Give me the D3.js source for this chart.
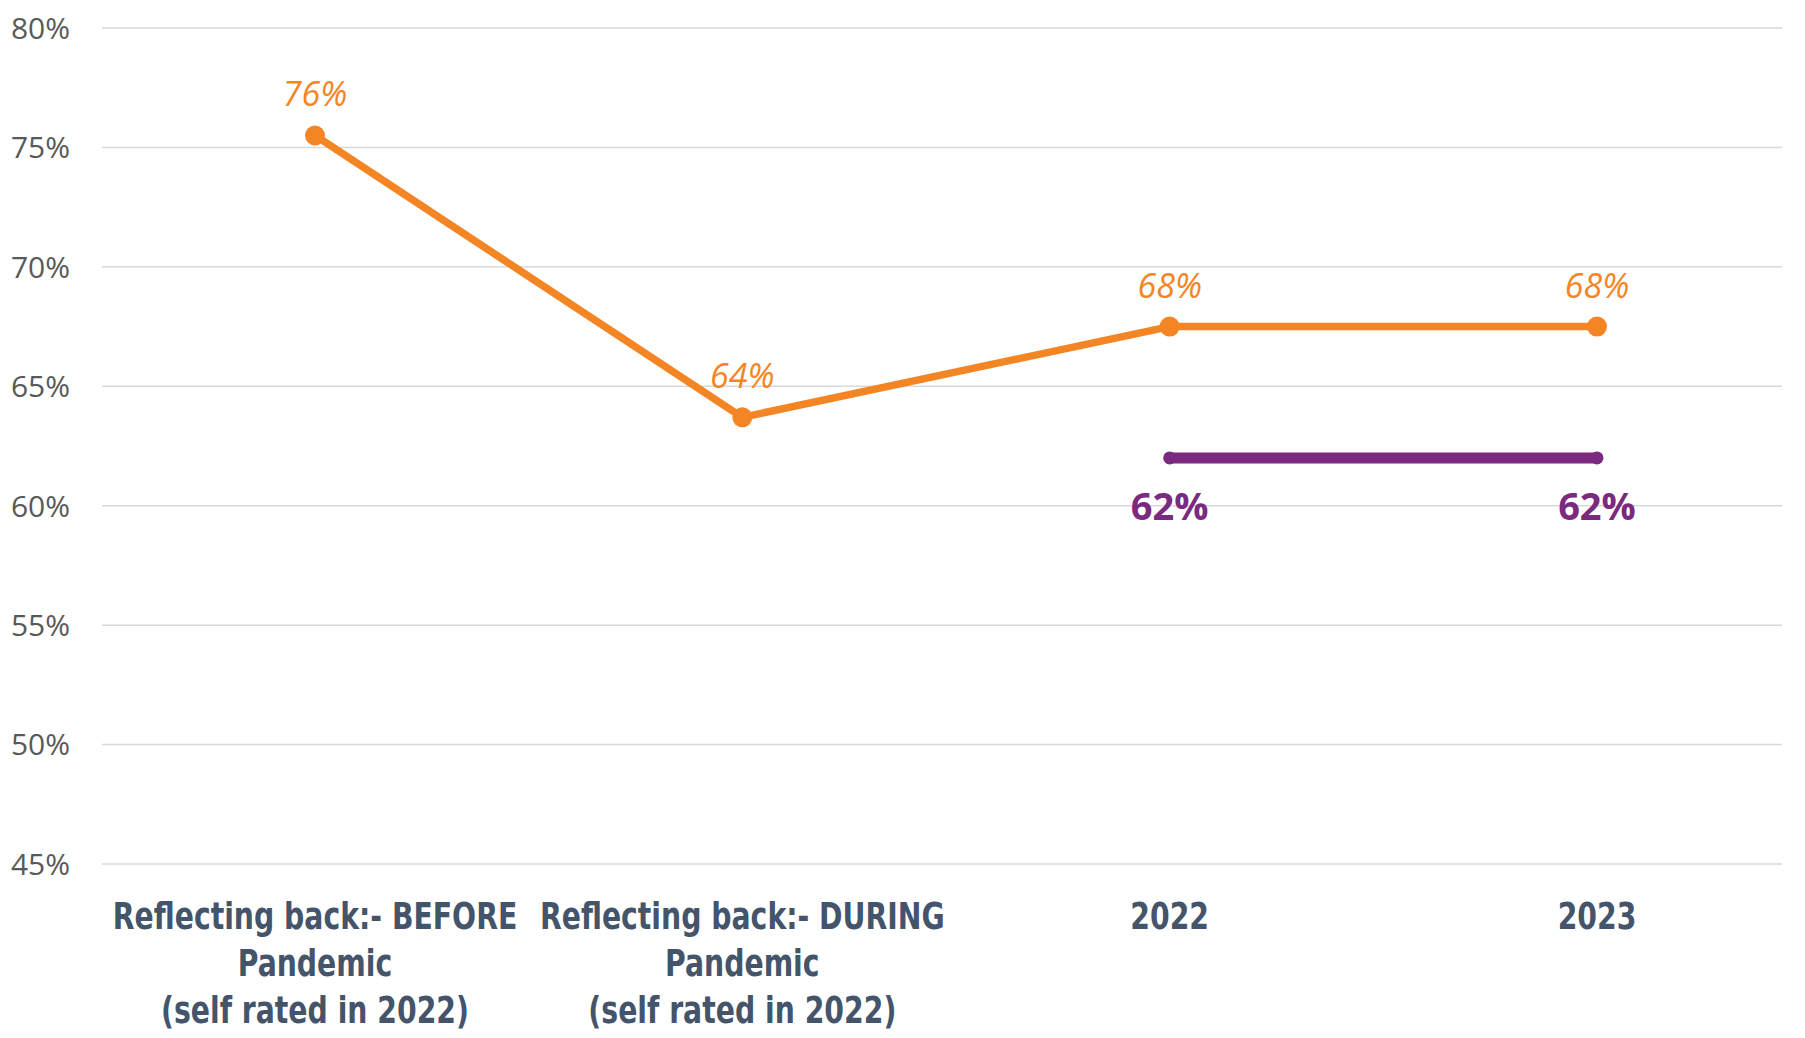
<!DOCTYPE html>
<html>
<head>
<meta charset="utf-8">
<script src="https://cdn.jsdelivr.net/npm/d3@7"></script>
<style>
  body { margin: 0; background: #fff; }
  svg { display: block; }
</style>
</head>
<body>
<svg id="chart" width="1805" height="1038"></svg>
<script>
// chart data
const categories = [
  ['Reflecting back:- BEFORE', 'Pandemic', '(self rated in 2022)'],
  ['Reflecting back:- DURING', 'Pandemic', '(self rated in 2022)'],
  ['2022'],
  ['2023']
]
const orangeValues = [75.5, 63.7, 67.5, 67.5]
const orangeLabels = ['76%', '64%', '68%', '68%']
const purpleValues = [null, null, 62.0, 62.0]
const purpleLabels = ['', '', '62%', '62%']
const yTicks = [45, 50, 55, 60, 65, 70, 75, 80]

const svg = d3.select('#chart')
const keys = categories.map((c, i) => i)

const x = d3.scalePoint()
  .domain(keys)
  .range([315, 1597])

const y = d3.scaleLinear()
  .domain([45, 80])
  .range([864, 28])

// gridlines
svg.append('g')
  .selectAll('line')
  .data(yTicks)
  .join('line')
  .attr('x1', 102)
  .attr('x2', 1782)
  .attr('y1', d => y(d))
  .attr('y2', d => y(d))
  .attr('stroke', '#d9d9d9')
  .attr('stroke-width', 1.5)

// y tick labels
svg.append('g')
  .selectAll('text')
  .data(yTicks)
  .join('text')
  .attr('x', 70)
  .attr('y', d => y(d))
  .attr('dy', '0.36em')
  .attr('text-anchor', 'end')
  .attr('font-family', 'Open Sans, sans-serif')
  .attr('font-size', '30px')
  .attr('fill', '#595959')
  .text(d => d + '%')

// x category labels (condensed horizontally)
const xLab = svg.append('g')
  .selectAll('g')
  .data(categories)
  .join('g')
  .attr('transform', (d, i) => `translate(${x(i)},929) scale(0.85,1)`)
  .append('text')
  .attr('text-anchor', 'middle')
  .attr('font-family', 'DejaVu Sans Condensed, sans-serif')
  .attr('font-weight', 'bold')
  .attr('font-size', '37px')
  .attr('fill', '#44546a')

xLab.selectAll('tspan')
  .data(d => d)
  .join('tspan')
  .attr('x', 0)
  .attr('dy', (d, j) => j === 0 ? 0 : 47)
  .text(d => d)

// orange series
const orangePts = orangeValues.map((v, i) => ({ i, v, label: orangeLabels[i] }))
const line = d3.line()
  .x(d => x(d.i))
  .y(d => y(d.v))

svg.append('path')
  .datum(orangePts)
  .attr('d', line)
  .attr('fill', 'none')
  .attr('stroke', '#f48524')
  .attr('stroke-width', 7.5)
  .attr('stroke-linejoin', 'round')

svg.append('g')
  .selectAll('circle')
  .data(orangePts)
  .join('circle')
  .attr('cx', d => x(d.i))
  .attr('cy', d => y(d.v))
  .attr('r', 10)
  .attr('fill', '#f48524')

svg.append('g')
  .selectAll('text')
  .data(orangePts)
  .join('text')
  .attr('x', d => x(d.i))
  .attr('y', d => y(d.v) - 29)
  .attr('text-anchor', 'middle')
  .attr('font-family', 'Open Sans, sans-serif')
  .attr('font-style', 'italic')
  .attr('font-size', '34px')
  .attr('fill', '#f48524')
  .text(d => d.label)

// purple series
const purplePts = purpleValues
  .map((v, i) => ({ i, v, label: purpleLabels[i] }))
  .filter(d => d.v !== null)

svg.append('path')
  .datum(purplePts)
  .attr('d', line)
  .attr('fill', 'none')
  .attr('stroke', '#7a2a7f')
  .attr('stroke-width', 11)

svg.append('g')
  .selectAll('circle')
  .data(purplePts)
  .join('circle')
  .attr('cx', d => x(d.i))
  .attr('cy', d => y(d.v))
  .attr('r', 6.5)
  .attr('fill', '#7a2a7f')

svg.append('g')
  .selectAll('text')
  .data(purplePts)
  .join('text')
  .attr('x', d => x(d.i))
  .attr('y', d => y(d.v) + 62)
  .attr('text-anchor', 'middle')
  .attr('font-family', 'Open Sans, sans-serif')
  .attr('font-weight', 'bold')
  .attr('font-size', '38px')
  .attr('fill', '#7a2a7f')
  .text(d => d.label)
</script>
</body>
</html>
